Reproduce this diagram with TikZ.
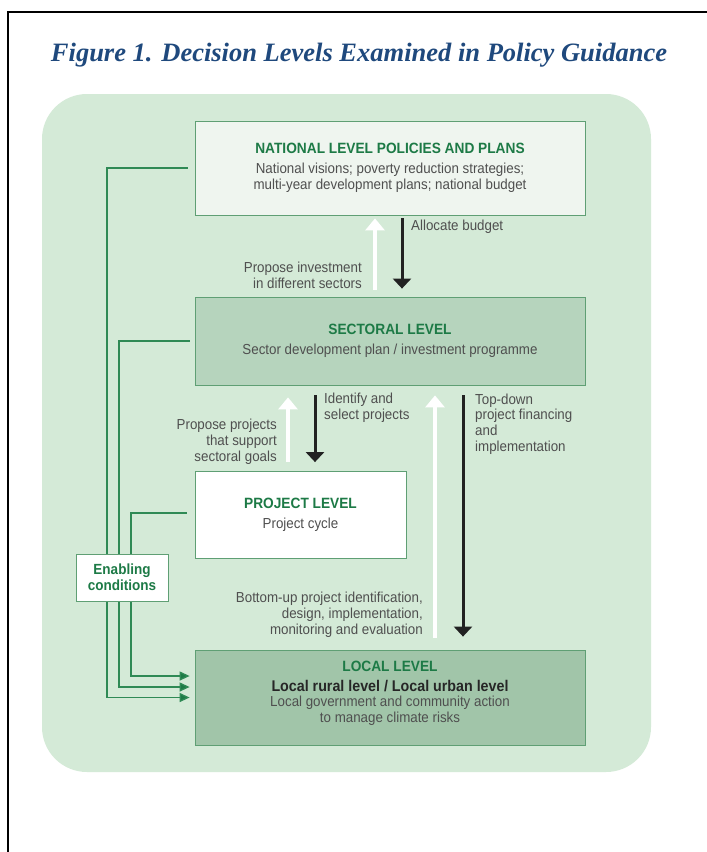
\documentclass[tikz,border=0pt]{standalone}
\usepackage{fontspec}
\setmainfont[FakeStretch=0.92]{Liberation Sans}
\newfontfamily\titlefont{Liberation Serif}
\usetikzlibrary{arrows.meta}
\definecolor{bggreen}{HTML}{D4EAD7}
\definecolor{natfill}{HTML}{EFF5EF}
\definecolor{secfill}{HTML}{B6D4BD}
\definecolor{locfill}{HTML}{A1C5A9}
\definecolor{boxline}{HTML}{5F9F74}
\definecolor{headgreen}{HTML}{1D7A46}
\definecolor{linegreen}{HTML}{2F8A55}
\definecolor{graytext}{HTML}{4F4F4F}
\definecolor{darkarrow}{HTML}{222222}
\definecolor{titleblue}{HTML}{1F497D}
\newcommand\hdtext[1]{{\fontsize{14.9}{15.8}\selectfont\bfseries\color{headgreen}#1}}
\begin{document}
\begin{tikzpicture}[x=1pt,y=-1pt,
  levelbox/.style={draw=boxline, line width=0.8pt, inner sep=0pt, align=center,
    font=\fontsize{14.5}{15.8}\selectfont, text=graytext},
  labeltext/.style={inner sep=0pt, font=\fontsize{14.5}{15.8}\selectfont, text=graytext},
  whitearrow/.style={draw=white, line width=4pt, -{Triangle[width=19pt,length=12pt]}, white},
  blackarrow/.style={draw=darkarrow, line width=3pt, -{Triangle[width=18pt,length=10pt]}, darkarrow},
  gline/.style={draw=linegreen, line width=1.3pt, -{Triangle[width=9pt,length=10pt,fill=headgreen]}},
  enabox/.style={draw=boxline, line width=0.8pt, fill=white, inner sep=0pt, align=center,
    minimum width=92pt, minimum height=47pt,
    font=\fontsize{14.7}{16}\selectfont\bfseries, text=headgreen}
]
\useasboundingbox (0,0) rectangle (707,852);
\fill[white] (0,0) rectangle (707,852);
% frame
\draw[line width=2pt, black] (8,852) -- (8,12) -- (707,12);
% title
\node[inner sep=0pt, font=\titlefont\bfseries\itshape\fontsize{26.5}{30}\selectfont, text=titleblue] (title) at (359,55)
  {Figure 1. Decision Levels Examined in Policy Guidance};
% background panel
\fill[bggreen, rounded corners=45pt] (42,94) rectangle (651,772);

% level boxes
\node[levelbox, fill=natfill, minimum width=390pt, minimum height=94pt] (nat) at (390,168)
  {\hdtext{NATIONAL LEVEL POLICIES AND PLANS}\\[4pt]
   National visions; poverty reduction strategies;\\
   multi-year development plans; national budget};
\node[levelbox, fill=secfill, minimum width=390pt, minimum height=88pt] (sect) at (390,341)
  {\hdtext{SECTORAL LEVEL}\\[4pt]
   Sector development plan / investment programme};
\node[levelbox, fill=white, minimum width=211pt, minimum height=87pt] (proj) at (300.5,515)
  {\hdtext{PROJECT LEVEL}\\[4pt] Project cycle};
\node[levelbox, fill=locfill, minimum width=390pt, minimum height=95pt] (loc) at (390,697.5) {};
\node[labeltext, align=center] (loctext) at (390,693.5)
  {\hdtext{LOCAL LEVEL}\\[3.5pt]
   {\fontsize{15.5}{15.8}\selectfont\bfseries\color{black!85}Local rural level / Local urban level}\\
   Local government and community action\\
   to manage climate risks};

% x positions of the vertical arrows and connectors
\coordinate (xw1) at (375,0);
\coordinate (xb1) at (402,0);
\coordinate (xw2) at (288,0);
\coordinate (xb2) at (315,0);
\coordinate (xw3) at (435,0);
\coordinate (xb3) at (463,0);
\coordinate (c1) at (107,0);
\coordinate (c2) at (119,0);
\coordinate (c3) at (131,0);

% vertical arrows
\draw[whitearrow, shorten <=7pt, shorten >=3pt] (sect.north -| xw1) -- (nat.south -| xw1);
\draw[blackarrow, shorten <=3pt, shorten >=8pt] (nat.south -| xb1) -- (sect.north -| xb1);
\draw[whitearrow, shorten <=9pt, shorten >=12pt] (proj.north -| xw2) -- (sect.south -| xw2);
\draw[blackarrow, shorten <=10pt, shorten >=9pt] (sect.south -| xb2) -- (proj.north -| xb2);
\draw[whitearrow, shorten <=12pt, shorten >=10pt] (loc.north -| xw3) -- (sect.south -| xw3);
\draw[blackarrow, shorten <=10pt, shorten >=13pt] (sect.south -| xb3) -- (loc.north -| xb3);

% arrow labels
\node[labeltext, anchor=west] (lab1) at (411,227) {Allocate budget};
\node[labeltext, anchor=east, align=right] (lab2) at (362,275.5) {Propose investment\\in different sectors};
\node[labeltext, anchor=west, align=left] (lab3) at (324,408) {Identify and\\select projects};
\node[labeltext, anchor=east, align=right] (lab4) at (277,441.5) {Propose projects\\that support\\sectoral goals};
\node[labeltext, anchor=west, align=left] (lab5) at (475,424) {Top-down\\project financing\\and\\implementation};
\node[labeltext, anchor=east, align=right] (lab6) at (423,614.5) {Bottom-up project identification,\\design, implementation,\\monitoring and evaluation};

% enabling-condition connectors
\draw[gline] ([xshift=-7pt]nat.west) -| (loc.west -| c1) -- ([xshift=-5pt]loc.west);
\draw[gline] ([xshift=-5pt]sect.west) -| ([yshift=10.5pt]loc.west -| c2) -- ([xshift=-5pt,yshift=10.5pt]loc.west);
\draw[gline] ([xshift=-8pt,yshift=2pt]proj.west) -| ([yshift=21.5pt]loc.west -| c3) -- ([xshift=-5pt,yshift=21.5pt]loc.west);

% enabling conditions box
\node[enabox] (ena) at (122,577.5) {Enabling\\conditions};
\end{tikzpicture}
\end{document}
